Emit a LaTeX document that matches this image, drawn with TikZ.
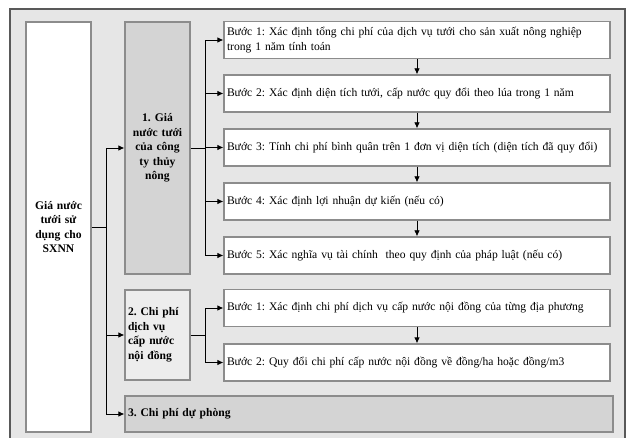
\documentclass[tikz,border=0pt]{standalone}
\usepackage{fontspec}
\setmainfont{Liberation Serif}
\usetikzlibrary{arrows.meta}
\definecolor{framegray}{HTML}{E6E6E6}
\definecolor{darkbox}{HTML}{D4D4D4}
\definecolor{lightbox}{HTML}{EDEDED}
\begin{document}
\frenchspacing
\begin{tikzpicture}[x=1pt,y=-1pt,line width=0.8pt,
  every node/.style={font=\fontsize{11.6}{14.5}\selectfont,inner sep=0pt},
  box/.style={draw=black!45,line width=1.3pt,inner xsep=3pt},
  stepbox/.style={box,fill=white,text width=380pt,minimum height=37pt,align=left},
  groupbox/.style={box,text width=59pt,font=\fontsize{11.6}{14.5}\selectfont\bfseries},
  arr/.style={-{Latex[length=6pt,width=5.5pt]}}]
\clip (0,0) rectangle (629,438);
\path[use as bounding box] (0,0) rectangle (629,438);
% outer frame
\draw[draw=black!65,line width=2pt,fill=framegray] (10,9) rectangle (625,460);
% left column
\node[groupbox,fill=white,minimum height=410pt,align=center] (main) at (58.5,227) {Giá nước\\tưới sử\\dụng cho\\SXNN};
\node[groupbox,fill=darkbox,minimum height=252pt,align=center] (g1) at (157.5,148) {1. Giá\\nước tưới\\của công\\ty thủy\\nông};
\node[groupbox,fill=lightbox,minimum height=90pt,align=left] (g2) at (157.5,335) {2. Chi phí\\dịch vụ\\cấp nước\\nội đồng};
\node[groupbox,fill=darkbox,text width=482pt,minimum height=36pt,align=left] (g3) at (369,414) {3. Chi phí dự phòng};
% steps of group 1
\node[stepbox] (s1) at (417,40) {Bước 1: Xác định tổng chi phí của dịch vụ tưới cho sản xuất nông nghiệp\\trong 1 năm tính toán};
\node[stepbox] (s2) at (417,93.5) {Bước 2: Xác định diện tích tưới, cấp nước quy đổi theo lúa trong 1 năm};
\node[stepbox] (s3) at (417,147.5) {Bước 3: Tính chi phí bình quân trên 1 đơn vị diện tích (diện tích đã quy đổi)};
\node[stepbox] (s4) at (417,201.5) {Bước 4: Xác định lợi nhuận dự kiến (nếu có)};
\node[stepbox] (s5) at (417,255.5) {Bước 5: Xác nghĩa vụ tài chính\ \ theo quy định của pháp luật (nếu có)};
% steps of group 2
\node[stepbox] (t1) at (417,308) {Bước 1: Xác định chi phí dịch vụ cấp nước nội đồng của từng địa phương};
\node[stepbox] (t2) at (417,362.5) {Bước 2: Quy đổi chi phí cấp nước nội đồng về đồng/ha hoặc đồng/m3};
% junctions
\coordinate (j0) at (106,227);
\coordinate (j1) at (205,148);
\coordinate (j2) at (205,335);
\draw (main.east |- j0) -- (j0);
\draw[arr] (j0) |- (g1.west);
\draw[arr] (j0) |- (g2.west);
\draw[arr] (j0) |- (g3.west);
\draw (g1.east |- j1) -- (j1);
\foreach \s in {s1,s2,s3,s4,s5}
  \draw[arr] (j1) |- (\s.west);
\draw (g2.east |- j2) -- (j2);
\draw[arr] (j2) |- (t1.west);
\draw[arr] (j2) |- (t2.west);
\draw[arr] (s1) -- (s2);
\draw[arr] (s2) -- (s3);
\draw[arr] (s3) -- (s4);
\draw[arr] (s4) -- (s5);
\draw[arr] (t1) -- (t2);
\end{tikzpicture}
\end{document}
